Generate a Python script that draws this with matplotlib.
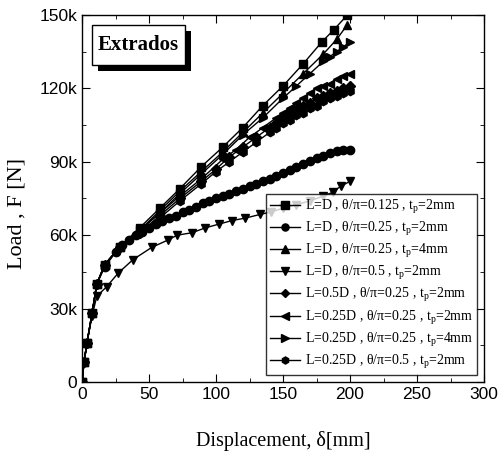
import numpy as np
import matplotlib
matplotlib.use("Agg")
import matplotlib.pyplot as plt
from matplotlib.patches import Rectangle

# ---- data (displacement mm, load N) ----
d_sq = [0, 1.5, 3.7, 7.5, 11, 17, 28, 43, 58, 73, 89, 105, 120, 135, 150, 165, 179, 188, 198]
F_sq = [0, 8e3, 16e3, 28e3, 40e3, 48e3, 55e3, 63e3, 71e3, 79e3, 88e3, 96e3, 104e3, 113e3, 121e3, 130e3, 139e3, 144e3, 150e3]

d_tu = [0, 1.5, 3.7, 7.5, 11, 17, 28, 43, 58, 73, 89, 105, 120, 135, 150, 165, 180, 190, 198]
F_tu = [0, 8e3, 16e3, 28e3, 40e3, 48e3, 55e3, 62e3, 70e3, 78e3, 86e3, 94e3, 102e3, 110e3, 118e3, 126e3, 134e3, 140e3, 146e3]

d_rt = [0, 1.5, 3.7, 7.5, 11, 17, 28, 43, 58, 73, 89, 105, 120, 135, 150, 160, 170, 180, 185, 190, 195, 200]
F_rt = [0, 8e3, 16e3, 28e3, 40e3, 48e3, 55e3, 62e3, 69e3, 77e3, 85e3, 93e3, 101e3, 108e3, 116e3, 121e3, 126e3, 131e3, 133e3, 135e3, 137e3, 139e3]

d_lt = [0, 1.5, 3.7, 7.5, 11, 17, 28, 43, 58, 73, 89, 105, 115, 125, 135, 145, 150, 155, 160, 165, 170, 175, 180, 185, 190, 195, 200]
F_lt = [0, 8e3, 16e3, 28e3, 40e3, 48e3, 55e3, 62e3, 69e3, 76e3, 83e3, 91e3, 95e3, 100e3, 104e3, 108e3, 110e3, 112e3, 114e3, 116e3, 118e3, 120e3, 121e3, 122e3, 124e3, 125e3, 126e3]

d_di = [0, 1.5, 3.7, 7.5, 11, 17, 28, 43, 58, 73, 89, 100, 110, 120, 130, 140, 145, 150, 155, 160, 165, 170, 175, 180, 185, 190, 195, 200]
F_di = [0, 8e3, 16e3, 28e3, 40e3, 48e3, 55e3, 61e3, 68e3, 75e3, 82e3, 87e3, 92e3, 96e3, 100e3, 104e3, 106e3, 108e3, 110e3, 111e3, 113e3, 114e3, 116e3, 117e3, 118e3, 119e3, 120e3, 121e3]

d_hx = [0, 1.5, 3.7, 7.5, 11, 17, 28, 43, 58, 73, 89, 100, 110, 120, 130, 140, 145, 150, 155, 160, 165, 170, 175, 180, 185, 190, 195, 200]
F_hx = [0, 8e3, 16e3, 28e3, 40e3, 48e3, 55e3, 61e3, 67e3, 74e3, 81e3, 86e3, 90e3, 94e3, 98e3, 102e3, 104e3, 106e3, 107e3, 109e3, 110e3, 112e3, 113e3, 115e3, 116e3, 117e3, 118e3, 119e3]

d_ci = [0, 1.5, 3.7, 7.5, 11, 17, 25, 30, 35, 40, 45, 50, 55, 60, 65, 70, 75, 80, 85, 90, 95, 100, 105, 110, 115, 120, 125, 130, 135, 140, 145, 150,
        155, 160, 165, 170, 175, 180, 185, 190, 195, 200]
F_ci = [0, 8e3, 16e3, 28e3, 40e3, 47e3, 53e3, 56e3, 58e3, 60e3, 61.5e3, 63e3, 64.5e3, 66e3, 67e3, 68e3, 69.5e3, 70.5e3, 71.5e3, 73e3, 74e3, 75e3, 76e3, 77e3, 78e3, 79e3, 80e3, 81e3, 82e3, 83e3, 84e3, 85.5e3,
        86.5e3, 88e3, 89e3, 90.5e3, 91.5e3, 92.5e3, 93.5e3, 94.5e3, 95e3, 95e3]

d_td = [0, 1.5, 3.7, 7.5, 11, 18.5, 27, 38, 52, 64, 71, 82, 92, 102, 112, 122, 133, 141, 150, 160, 170, 180, 187, 193, 200]
F_td = [0, 8e3, 16e3, 27e3, 35e3, 39e3, 44.5e3, 50e3, 55e3, 58e3, 60e3, 61e3, 63e3, 64.5e3, 66e3, 67e3, 68.5e3, 69.5e3, 71e3, 72.5e3, 74e3, 76e3, 77.5e3, 80e3, 82e3]

labels = [
    r"L=D , $\theta/\pi$=0.125 , t$_\mathrm{p}$=2mm",
    r"L=D , $\theta/\pi$=0.25 , t$_\mathrm{p}$=2mm",
    r"L=D , $\theta/\pi$=0.25 , t$_\mathrm{p}$=4mm",
    r"L=D , $\theta/\pi$=0.5 , t$_\mathrm{p}$=2mm",
    r"L=0.5D , $\theta/\pi$=0.25 , t$_\mathrm{p}$=2mm",
    r"L=0.25D , $\theta/\pi$=0.25 , t$_\mathrm{p}$=2mm",
    r"L=0.25D , $\theta/\pi$=0.25 , t$_\mathrm{p}$=4mm",
    r"L=0.25D , $\theta/\pi$=0.5 , t$_\mathrm{p}$=2mm",
]
series = [(d_sq, F_sq, 's'), (d_ci, F_ci, 'o'), (d_tu, F_tu, '^'), (d_td, F_td, 'v'),
          (d_di, F_di, 'D'), (d_lt, F_lt, '<'), (d_rt, F_rt, '>'), (d_hx, F_hx, 'h')]

xticks = [0, 50, 100, 150, 200, 250, 300]
yticks = [0, 30000, 60000, 90000, 120000, 150000]
yticklabels = ["0", "30k", "60k", "90k", "120k", "150k"]

plt.rcParams['mathtext.fontset'] = 'custom'
plt.rcParams['mathtext.rm'] = 'Liberation Serif'
plt.rcParams['mathtext.it'] = 'Liberation Serif'

fig = plt.figure(figsize=(5.01, 4.54), dpi=100)
ax = fig.add_axes([82/501, 1-382/454, (484-82)/501, (382-15)/454])

for (d, F, m), lab in zip(series, labels):
    ms = 6 if m != 'D' else 5
    ax.plot(d, F, color='black', marker=m, markersize=ms, linewidth=1.0, label=lab)

ax.set_xlim(0, 300)
ax.set_ylim(0, 150000)
ax.set_xticks(xticks)
ax.set_yticks(yticks)
ax.set_yticklabels(yticklabels)
ax.set_xticks(np.arange(25, 300, 50), minor=True)
ax.set_yticks(np.arange(15000, 150000, 30000), minor=True)
ax.tick_params(which='both', direction='in', top=True, right=True, labelsize=12.5)
ax.tick_params(which='major', length=6)
ax.tick_params(which='minor', length=3)
for lbl in ax.get_xticklabels() + ax.get_yticklabels():
    lbl.set_fontfamily('Liberation Sans')
ax.set_xlabel("Displacement, δ[mm]", family='Liberation Serif', fontsize=14.5)
ax.xaxis.set_label_coords(0.5, -0.134)
ax.set_ylabel("Load , F [N]", family='Liberation Serif', fontsize=16)
ax.yaxis.set_label_coords(-0.137, 0.46)

leg = ax.legend(loc='lower right', bbox_to_anchor=(1.0, 0.0), prop={'family': 'Liberation Serif', 'size': 10},
                frameon=True, fancybox=False, edgecolor='black', handlelength=2.2, markerscale=0.85,
                labelspacing=0.3, borderpad=0.3, handletextpad=0.3, borderaxespad=0.5)
leg.get_frame().set_linewidth(1.0)

# "Extrados" box with shadow
bx0, by0 = (92-82)/402, (382-65)/367
bw, bh = (185-92)/402, (65-25)/367
ax.add_patch(Rectangle((bx0 + 6/402, by0 - 6/367), bw, bh, transform=ax.transAxes,
                       facecolor='black', edgecolor='none', zorder=5))
ax.add_patch(Rectangle((bx0, by0), bw, bh, transform=ax.transAxes,
                       facecolor='white', edgecolor='black', linewidth=1.0, zorder=6))
ax.text(bx0 + bw/2, by0 + bh/2, "Extrados", transform=ax.transAxes, family='Liberation Serif',
        fontweight='bold', fontsize=15, ha='center', va='center', zorder=7)

for s in ax.spines.values():
    s.set_linewidth(1.0)

fig.savefig("out.png", dpi=100)
